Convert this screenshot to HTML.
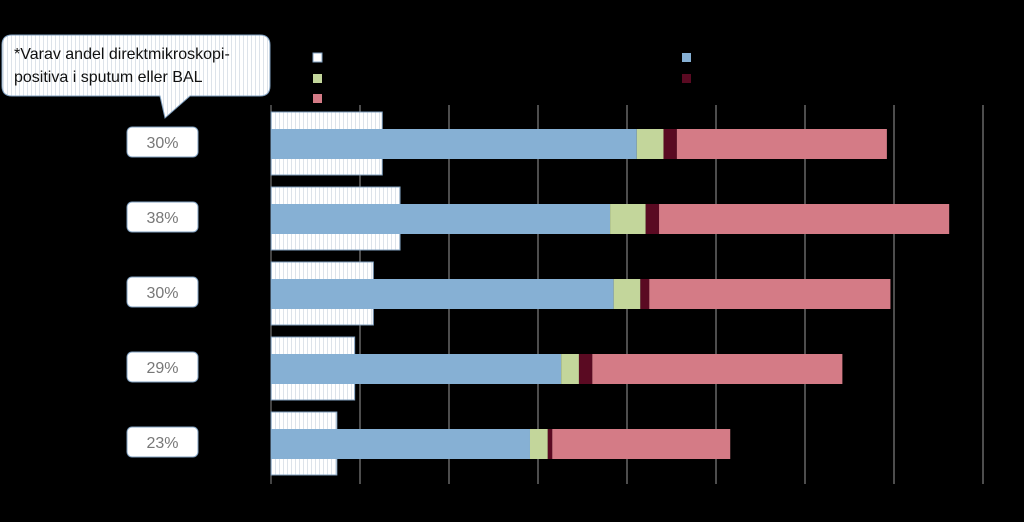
<!DOCTYPE html>
<html><head><meta charset="utf-8"><style>
html,body{margin:0;padding:0;background:#000;width:1024px;height:522px;overflow:hidden}
svg{display:block}
text{font-family:"Liberation Sans",sans-serif}
</style></head><body>
<svg id="chart" width="1024" height="522" viewBox="0 0 1024 522">
<defs>
<pattern id="stripes" width="4" height="4" patternUnits="userSpaceOnUse">
<rect width="4" height="4" fill="#fff"/><rect x="3" width="1" height="4" fill="#dde3ea"/>
</pattern>
</defs>
<g>
<path d="M12,35 H260 Q270,35 270,45 V86 Q270,96 260,96 H190 L165,118 L160,96 H12 Q2,96 2,86 V45 Q2,35 12,35 Z" fill="url(#stripes)" stroke="#7f9fbf" stroke-width="1"/>
<text x="14" y="59" font-size="16" fill="#111">*Varav andel direktmikroskopi-</text>
<text x="14" y="82" font-size="16" fill="#111">positiva i sputum eller BAL</text>
</g>
<g>
<rect x="313" y="53" width="9" height="9" fill="#fff" stroke="#7f9fbf"/>
<rect x="313" y="74" width="9" height="9" fill="#c3d69b"/>
<rect x="313" y="94" width="9" height="9" fill="#d47b86"/>
<rect x="682" y="53" width="9" height="9" fill="#86b0d4"/>
<rect x="682" y="74" width="9" height="9" fill="#5a0a22"/>
</g>
<g id="grid"></g>
<g id="bars"></g>
<g id="labels"></g>
</svg>
<script>
const categories = ["r1","r2","r3","r4","r5"];
const pctLabels = ["30%","38%","30%","29%","23%"];
const whiteVals = [1.25,1.45,1.15,0.94,0.74];
const blueVals = [4.11,3.81,3.85,3.26,2.91];
const greenVals = [0.30,0.40,0.30,0.20,0.20];
const darkVals = [0.15,0.15,0.10,0.15,0.05];
const pinkVals = [2.36,3.26,2.71,2.81,2.00];
const ticks = [0,1,2,3,4,5,6,7,8];

const NS="http://www.w3.org/2000/svg";
const x0=271, unit=89, y0=143, step=75;
const xs=v=>x0+v*unit;
const yc=i=>y0+i*step;
function mk(tag,attrs,parent){const e=document.createElementNS(NS,tag);for(const k in attrs)e.setAttribute(k,attrs[k]);parent.appendChild(e);return e;}
const grid=document.getElementById('grid'),bars=document.getElementById('bars'),labels=document.getElementById('labels');
ticks.forEach(t=>{
  const l=mk('line',{x1:xs(t),x2:xs(t),y1:105,y2:484,stroke:t===0?'#888':'#9a9a9a','stroke-width':1},grid);
  
  
});
categories.forEach((c,i)=>{
  const cy=yc(i);
  const w=mk('rect',{x:x0,y:cy-31,width:xs(whiteVals[i])-x0,height:63,fill:'url(#stripes)',stroke:'#7f9fbf','stroke-width':1},bars);
  
  
  let acc=0;
  [[blueVals,'#86b0d4','bar-blue'],[greenVals,'#c3d69b','bar-green'],[darkVals,'#5a0a22','bar-darkred'],[pinkVals,'#d47b86','bar-pink']].forEach(([arr,col,nm])=>{
    const r=mk('rect',{x:xs(acc),y:cy-14,width:arr[i]*unit,height:30,fill:col},bars);
    
    
    acc+=arr[i];
  });
  const b=mk('rect',{x:127,y:cy-16,width:71,height:30,rx:5,fill:'#fff',stroke:'#7f9fbf'},labels);
  
  
  const t=mk('text',{x:162.5,y:cy+5,'text-anchor':'middle','font-size':16,fill:'#777'},labels);
  t.textContent=pctLabels[i];
  
  
});
</script>
</body></html>
